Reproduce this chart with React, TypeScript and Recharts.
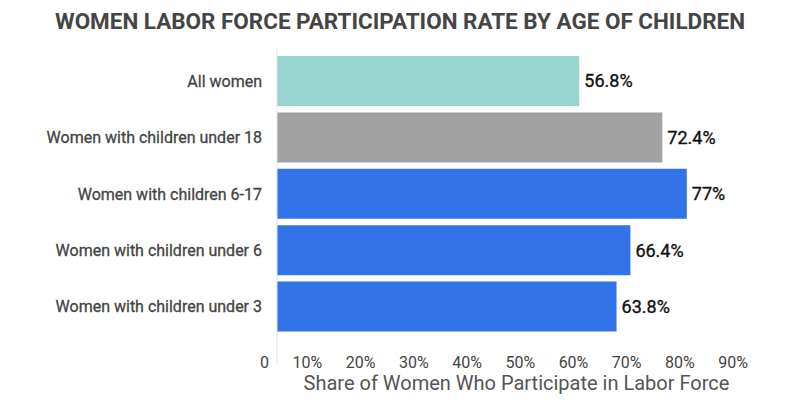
import React from "react";
import { BarChart, Bar, XAxis, YAxis, Cell, LabelList } from "recharts";

const categories = [
  "All women",
  "Women with children under 18",
  "Women with children 6-17",
  "Women with children under 6",
  "Women with children under 3",
];
const rates = [56.8, 72.4, 77, 66.4, 63.8];
const barColors = ["#98d5cf", "#a2a2a2", "#3273ea", "#3273ea", "#3273ea"];
const xTicks = [0, 10, 20, 30, 40, 50, 60, 70, 80, 90];

const data = categories.map((name, i) => ({ name, rate: rates[i] }));

const FONT = "Roboto, 'Noto Sans', sans-serif";

function fmtPct(v: number): string {
  return `${v}%`;
}

function XTick(props: any) {
  const { x, y, payload } = props;
  return (
    <text
      x={x - 8}
      y={y}
      dy={-3}
      textAnchor="end"
      fill="#444"
      fontSize={16}
      fontFamily={FONT}
    >
      {payload.value === 0 ? "0" : fmtPct(payload.value)}
    </text>
  );
}

function AxisTitle(props: any) {
  const { viewBox } = props;
  if (!viewBox) return null;
  return (
    <text
      x={viewBox.x + viewBox.width / 2}
      y={viewBox.y + 27}
      textAnchor="middle"
      fill="#555"
      fontSize={20}
      fontFamily={FONT}
    >
      Share of Women Who Participate in Labor Force
    </text>
  );
}

export default function App() {
  return (
    <div
      style={{
        position: "fixed",
        top: 0,
        left: 0,
        width: 800,
        height: 402,
        background: "#fff",
        fontFamily: FONT,
      }}
    >
      <svg
        width={800}
        height={40}
        style={{ position: "absolute", top: 0, left: 0 }}
      >
        <text
          x={55}
          y={29}
          textLength={690}
          lengthAdjust="spacingAndGlyphs"
          fill="#454545"
          fontSize={22.5}
          fontWeight={700}
          fontFamily={FONT}
        >
          WOMEN LABOR FORCE PARTICIPATION RATE BY AGE OF CHILDREN
        </text>
      </svg>
      <div style={{ position: "absolute", top: 0, left: 0 }}>
        <BarChart
          width={800}
          height={402}
          data={data}
          layout="vertical"
          margin={{ top: 49, right: 44, bottom: 0, left: 0 }}
          barCategoryGap={6}
        >
          <XAxis
            type="number"
            domain={[0, 90]}
            ticks={xTicks}
            axisLine={false}
            tickLine={false}
            height={39}
            tick={<XTick />}
            label={<AxisTitle />}
          />
          <YAxis
            type="category"
            dataKey="name"
            width={277}
            padding={{ top: 4, bottom: 28 }}
            axisLine={{ stroke: "#e2e2e2" }}
            tickLine={false}
            tickSize={0}
            tickMargin={15}
            tick={{
              fill: "#444",
              stroke: "#444",
              strokeWidth: 0.3,
              fontSize: 16,
              fontFamily: FONT,
            }}
          />
          <Bar dataKey="rate" barSize={50} isAnimationActive={false}>
            {data.map((d, i) => (
              <Cell key={d.name} fill={barColors[i]} />
            ))}
            <LabelList
              dataKey="rate"
              position="right"
              offset={5}
              formatter={(v: any) => fmtPct(v)}
              fill="#111"
              stroke="#111"
              strokeWidth={0.35}
              fontSize={18}
              fontFamily={FONT}
            />
          </Bar>
        </BarChart>
      </div>
    </div>
  );
}
